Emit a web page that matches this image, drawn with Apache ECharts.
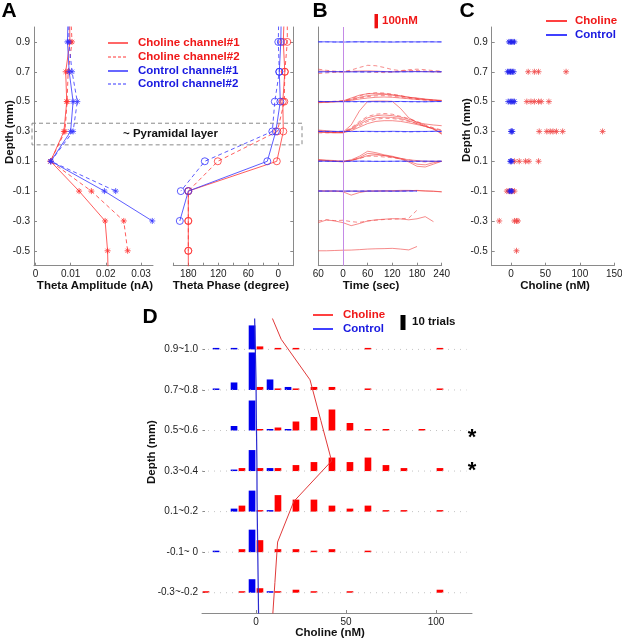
<!DOCTYPE html>
<html>
<head>
<meta charset="utf-8">
<script src="https://cdn.jsdelivr.net/npm/echarts@6.0.0/dist/echarts.min.js"></script>
<style>
html, body { margin: 0; padding: 0; background: #fff; }
#fig { width: 622px; height: 640px; }
</style>
</head>
<body>
<div id="fig"></div>
<script>
var FONT = '"Liberation Sans", Arial, sans-serif';
var STAR = 'path://M5,0L5,10M0,5L10,5M1.5,1.5L8.5,8.5M8.5,1.5L1.5,8.5';
var RED = '#ff3535', BLUE = '#3535ff';
var RED_T = '#f01818', BLUE_T = '#1818e0';

var depthTicks = [-0.5, -0.3, -0.1, 0.1, 0.3, 0.5, 0.7, 0.9];

// panel A : theta amplitude (nA) and phase (deg) by depth (mm)
var aDepth  = [1.1, 0.9, 0.7, 0.5, 0.3, 0.1, -0.1, -0.3, -0.5, -0.7];
var ampCho1 = [0.0097, 0.0098, 0.0086, 0.0089, 0.0081, 0.0043, 0.0124, 0.0198, 0.0205, 0.0207];
var ampCho2 = [0.0100, 0.0104, 0.0093, 0.0090, 0.0084, 0.0043, 0.0159, 0.0251, 0.0262, null];
var ampCon1 = [0.0093, 0.0091, 0.0096, 0.0107, 0.0100, 0.0044, 0.0196, 0.0332, null, null];
var ampCon2 = [0.0095, 0.0095, 0.0104, 0.0119, 0.0107, 0.0044, 0.0228, null, null, null];
var phCho1  = [-12, -10, -13, -9, -10, 3, 180, 180, 180, 180];
var phCho2  = [-18, -18, -13, -12, 2, 121, 180, 180, 180, null];
var phCon1  = [-6, -5, -2, -4, 5, 22, 180, 197, null, null];
var phCon2  = [-1, 0, -2, 7, 12, 147, 195, null, null, null];

// panel B : choline traces (nM) per depth, sampled every 20 s
var bTime  = [-60, -40, -20, 0, 20, 40, 60, 80, 100, 120, 140, 160, 180, 200, 220, 240];
var bDepth = [0.9, 0.7, 0.5, 0.3, 0.1, -0.1, -0.3, -0.5];
var bCho1 = [
  [],
  [[6, 3, 0, -2, 2, 5, 6, 4, 2, 0, 1, 3, 2, 1, 0, 0]],
  [[-5, -3, 0, 5, 25, 45, 55, 58, 55, 48, 40, 30, 22, 15, 10, 5],
   [-8, -5, -2, 2, 15, 30, 42, 48, 50, 45, 38, 30, 25, 18, 12, 8],
   [2, 0, 0, 0, 8, 18, 25, 30, 32, 30, 25, 20, 15, 12, 10, 8]],
  [[10, 5, 0, -5, 45, 143, 210, 212, 212, 210, 160, 95, 62, 52, 45, 40],
   [-5, -8, -10, -8, 20, 60, 95, 110, 115, 110, 100, 85, 65, 40, 15, -10],
   [0, -5, -5, -5, 15, 50, 80, 95, 100, 98, 90, 75, 55, 35, 20, 5],
   [-2, -5, -8, -10, 5, 30, 55, 70, 75, 75, 70, 60, 48, 35, 20, -20]],
  [[10, 5, 0, 0, 10, 35, 70, 60, 45, 35, 20, 0, -20, -25, -10, 0],
   [5, 5, 0, -5, 5, 25, 55, 50, 40, 30, 15, -5, -35, -40, -20, 0],
   [12, 8, 5, 0, 5, 20, 40, 45, 40, 30, 20, 10, 5, 0, 0, 0]],
  [[0, 0, 0, -5, -28, -10, 0, 0, 0, 0, 0, 3, 5, 2, 0, -5],
   [2, 1, 0, 0, 0, 0, 0, 1, 2, 3, 5, 5, 3, 0, -2, -5]],
  [[-12, 7, 0, -12, -33, -18, 0, 8, 12, 16, 14, 8, 15, 30, -5, null]],
  [[0, 0, 2, 4, 5, 8, 12, 14, 15, 17, 12, 6, 30, null, null, null]]
];
var bCho2 = [
  [],
  [[18, 10, 4, 2, 12, 30, 45, 42, 30, 15, 8, 14, 18, 14, 8, 4],
   [-12, -8, -4, 0, 4, 2, -2, -4, -6, -2, 6, 10, 8, 4, 0, -2]],
  [[0, 0, 2, 5, 20, 40, 55, 62, 60, 52, 42, 30, 22, 15, 10, 5],
   [-3, -2, 0, 3, 12, 25, 35, 40, 42, 38, 30, 22, 15, 10, 5, 2]],
  [[5, 0, -5, -3, 25, 70, 105, 120, 125, 120, 105, 90, 70, 45, 25, 10],
   [-10, -10, -8, -5, 10, 40, 70, 85, 92, 90, 82, 70, 55, 35, 15, -15]],
  [[3, 2, 0, 0, 8, 20, 35, 35, 30, 25, 18, 10, 0, -5, -2, 0]],
  [],
  [[0, 8, 2, 5, -5, -10, 0, 5, 10, 12, 15, 20, 75, null, null, null]],
  []
];
var bCon1 = [
  [[0, 1, 0, -1, 0, 1, 1, 0, 0, -1, 0, 1, 0, 1, 0, 0]],
  [[0, 0, 1, 0, -1, 0, 0, 1, 0, -1, 0, 0, 1, 0, 0, 0]],
  [[1, 0, 0, -1, 0, 1, 0, 0, -1, 0, 1, 0, 0, -1, 0, 1]],
  [[0, 1, 0, 0, -1, 0, 1, 0, 0, 1, 0, -1, 0, 0, 1, 0]],
  [[1, 0, -1, 0, 0, 1, 0, -1, 0, 0, 1, 0, 0, 1, 0, 0]],
  [[0, 0, 1, 0, 0, -1, 0, 0, 1, 0, 0, 1, 0, null, null, null]],
  [], []
];
var bCon2 = [
  [[1, 0, -1, 0, 1, 0, -1, 1, 0, 0, 1, -1, 0, 0, 1, 0]],
  [[-2, -1, 0, 1, 0, -2, -1, 0, 1, 0, -1, 0, 0, 1, 0, 0]],
  [[0, 0, 1, 0, -1, -2, -2, -1, -1, 0, 0, -1, -2, -1, 0, 0]],
  [[0, -1, 0, 1, 0, 0, -1, -2, -2, -1, -2, -3, -2, -1, 0, 0]],
  [[0, 1, 0, -1, 0, 0, 1, 0, -1, 0, 0, -1, 0, 0, 0, 1]],
  [[1, 0, 0, -1, 0, 0, 1, 0, 0, -1, 0, 0, 1, null, null, null]],
  [], []
];
var bScale = 0.00096;   // depth units per nM on panel B

// panel C : peak choline (nM) per trial and depth
var cDepth   = [0.9, 0.7, 0.5, 0.3, 0.1, -0.1, -0.3, -0.5];
var cCholine = [[], [25, 34, 40, 80], [23, 29, 34, 40, 44, 55], [41, 52, 57, 61, 66, 75, 133],
                [5, 12, 21, 26, 40], [-6, -3, 0, 2, 5], [-17, 5, 8, 10], [8]];
var cControl = [[-3, -1, 1, 3, 5], [-5, -3, -1, 0, 2, 4], [-4, -1, 1, 3, 5], [0, 1, 2],
                [-1, 0, 1], [-2, 0, 1], [], []];

// panel D : histograms of trials per 10 nM bin
var dRowDepth = [0.9, 0.7, 0.5, 0.3, 0.1, -0.1, -0.3];
var dRowLabel = ['0.9~1.0', '0.7~0.8', '0.5~0.6', '0.3~0.4', '0.1~0.2', '-0.1~ 0', '-0.3~-0.2'];
var dBins = [-30, -20, -10, 0, 10, 20, 30, 40, 50, 60, 70, 80, 90, 100, 110];
var dCholine = [
  [0, 0, 0, 2, 1, 1, 0, 0, 0, 1, 0, 0, 0, 1, 0],
  [0, 0, 0, 2, 1, 1, 2, 2, 0, 1, 0, 0, 0, 1, 0],
  [0, 0, 0, 1, 2, 6, 9, 14, 5, 1, 1, 0, 1, 0, 0],
  [0, 0, 2, 2, 2, 4, 6, 9, 6, 9, 4, 2, 0, 2, 0],
  [0, 0, 4, 1, 11, 8, 8, 4, 2, 4, 1, 1, 0, 1, 0],
  [0, 0, 2, 8, 2, 2, 1, 2, 0, 1, 0, 0, 0, 0, 0],
  [1, 0, 1, 3, 1, 2, 1, 0, 1, 0, 0, 0, 0, 2, 0]
];
var dControl = [
  [0, 1, 1, 16, 0, 0, 0, 0, 0, 0, 0, 0, 0, 0, 0],
  [0, 1, 5, 25, 7, 2, 0, 0, 0, 0, 0, 0, 0, 0, 0],
  [0, 0, 3, 20, 1, 1, 0, 0, 0, 0, 0, 0, 0, 0, 0],
  [0, 0, 1, 14, 2, 0, 0, 0, 0, 0, 0, 0, 0, 0, 0],
  [0, 0, 2, 14, 1, 0, 0, 0, 0, 0, 0, 0, 0, 0, 0],
  [0, 1, 0, 15, 0, 0, 0, 0, 0, 0, 0, 0, 0, 0, 0],
  [0, 0, 0, 9, 1, 0, 0, 0, 0, 0, 0, 0, 0, 0, 0]
];
var dLineDepth    = [1.15, 0.95, 0.75, 0.55, 0.35, 0.15, -0.05, -0.25, -0.45];
var dCholineMean  = [4.5, 14, 30, 36, 42, 21, 12, 10.5, 9];
var dControlMean  = [-1, -0.5, 0, 0.2, 0.5, 0.6, 0.9, 1.2, 1.5];
var trialUnit = 0.0074;   // depth units per trial on panel D

function pairs(xs, ys) {
  return xs.map(function (x, i) { return x == null ? null : [x, ys[i]]; })
           .filter(function (p) { return p; });
}

function axis(grid, min, max, ticks, labels, fmt, more) {
  var a = {
    type: 'value', gridIndex: grid, min: min, max: max,
    axisLine: { show: true, onZero: false, lineStyle: { color: '#8a8a8a', width: 1 } },
    axisTick: { show: ticks !== null, inside: true, length: 3, customValues: ticks || [],
                lineStyle: { color: '#8a8a8a' } },
    axisLabel: { show: labels !== null, customValues: labels || [], formatter: fmt,
                 color: '#222', fontSize: 10, fontFamily: FONT, margin: 4 },
    splitLine: { show: false }
  };
  return Object.assign(a, more || {});
}

var fmtNum = function (v) { return String(+v.toFixed(3)); };
var fmtDepth = function (v) { return v.toFixed(1); };

var xAxes = [
  axis(0, -0.0004, 0.0334, [0, 0.01, 0.02, 0.03], [0, 0.01, 0.02, 0.03], fmtNum),
  axis(1, -30, 210, [-30, 0, 30, 60, 90, 120, 150, 180, 210], [0, 60, 120, 180], fmtNum, { inverse: true }),
  axis(2, -60, 240, [-60, 0, 60, 120, 180, 240], [-60, 0, 60, 120, 180, 240],
       function (v) { return String(Math.abs(v)); }),
  axis(3, -28, 150, [0, 50, 100, 150], [0, 50, 100, 150], fmtNum),
  axis(4, -30, 120, [0, 50, 100], [0, 50, 100], fmtNum)
];
var yAxes = [
  axis(0, -0.6, 1.0, depthTicks, depthTicks, fmtDepth),
  axis(1, -0.6, 1.0, depthTicks, null, fmtDepth, { position: 'right' }),
  axis(2, -0.6, 1.0, null, null, fmtDepth),
  axis(3, -0.6, 1.0, depthTicks, depthTicks, fmtDepth),
  axis(4, -0.4, 1.05, dRowDepth, dRowDepth, function (v) {
    for (var i = 0; i < dRowDepth.length; i++) {
      if (Math.abs(dRowDepth[i] - v) < 1e-6) return dRowLabel[i];
    }
    return '';
  }, { axisLine: { show: false, onZero: false } })
];

var series = [];

// A: amplitude and phase
var aSets = [[ampCho1, phCho1, RED, false], [ampCho2, phCho2, RED, true],
             [ampCon1, phCon1, BLUE, false], [ampCon2, phCon2, BLUE, true]];
aSets.forEach(function (s) {
  var ls = { color: s[2], width: 1, opacity: 0.8, type: s[3] ? [4, 3] : 'solid' };
  series.push({
    type: 'line', xAxisIndex: 0, yAxisIndex: 0, data: pairs(s[0], aDepth),
    symbol: STAR, symbolSize: 6, lineStyle: ls, clip: true, silent: true,
    itemStyle: { color: 'transparent', borderColor: s[2], borderWidth: 1, opacity: 0.8 }
  });
  series.push({
    type: 'line', xAxisIndex: 1, yAxisIndex: 1, data: pairs(s[1], aDepth),
    symbol: 'circle', symbolSize: 7, lineStyle: ls, clip: true, silent: true,
    itemStyle: { color: 'transparent', borderColor: s[2], borderWidth: 1, opacity: 0.8 }
  });
});

// B: traces
function addTraces(sets, color, dashed, width) {
  sets.forEach(function (traces, r) {
    traces.forEach(function (vals) {
      series.push({
        type: 'line', xAxisIndex: 2, yAxisIndex: 2, symbol: 'none', silent: true,
        data: pairs(vals.map(function (v) { return v == null ? null : bDepth[r] + v * bScale; }), bTime)
                .map(function (p) { return [p[1], p[0]]; }),
        lineStyle: { color: color, width: width, opacity: 0.75, type: dashed ? [4, 3] : 'solid' }
      });
    });
  });
}
addTraces(bCho1, '#f03c3c', false, 0.8);
addTraces(bCho2, '#f03c3c', true, 0.8);
addTraces(bCon1, '#3030ff', false, 1);
addTraces(bCon2, '#3030ff', true, 1);
series.push({
  type: 'line', xAxisIndex: 2, yAxisIndex: 2, data: [], silent: true,
  markLine: { silent: true, symbol: 'none', label: { show: false },
              lineStyle: { color: '#c48ae6', width: 1, type: 'solid' }, data: [{ xAxis: 0 }] }
});

// C: scatter
function scat(lists) {
  var out = [];
  lists.forEach(function (vals, r) { vals.forEach(function (v) { out.push([v, cDepth[r]]); }); });
  return out;
}
series.push({
  type: 'scatter', xAxisIndex: 3, yAxisIndex: 3, data: scat(cCholine), symbol: STAR, symbolSize: 6,
  itemStyle: { color: 'transparent', borderColor: '#f04848', borderWidth: 1, opacity: 0.8 }, silent: true
});
series.push({
  type: 'scatter', xAxisIndex: 3, yAxisIndex: 3, data: scat(cControl), symbol: STAR, symbolSize: 6,
  itemStyle: { color: 'transparent', borderColor: '#2222ee', borderWidth: 1 }, silent: true
});

// D: baselines, histogram bars, mean lines
dRowDepth.forEach(function (d) {
  series.push({
    type: 'line', xAxisIndex: 4, yAxisIndex: 4, symbol: 'none', silent: true,
    data: [[-30, d], [117, d]], lineStyle: { color: '#c4c4c4', width: 1, type: [1, 5] }
  });
});
function barItems(counts, offset) {
  var out = [];
  dRowDepth.forEach(function (d, r) {
    counts[r].forEach(function (c, k) { if (c > 0) out.push([dBins[k] + offset, d, c]); });
  });
  return out;
}
function barRender(color) {
  return function (params, api) {
    var x = api.value(0), y = api.value(1), c = api.value(2);
    var p0 = api.coord([x - 1.85, y]);
    var p1 = api.coord([x + 1.85, y + c * trialUnit]);
    return { type: 'rect', shape: { x: p0[0], y: p1[1], width: p1[0] - p0[0], height: p0[1] - p1[1] },
             style: { fill: color } };
  };
}
series.push({ type: 'custom', xAxisIndex: 4, yAxisIndex: 4, data: barItems(dControl, -2.2),
              encode: { x: 0, y: 1 }, renderItem: barRender('#0000ee'), silent: true });
series.push({ type: 'custom', xAxisIndex: 4, yAxisIndex: 4, data: barItems(dCholine, 2.2),
              encode: { x: 0, y: 1 }, renderItem: barRender('#ff0000'), silent: true });
series.push({ type: 'line', xAxisIndex: 4, yAxisIndex: 4, symbol: 'none', silent: true, clip: true,
              data: pairs(dCholineMean, dLineDepth), lineStyle: { color: '#e03a3a', width: 1 } });
series.push({ type: 'line', xAxisIndex: 4, yAxisIndex: 4, symbol: 'none', silent: true, clip: true,
              data: pairs(dControlMean, dLineDepth), lineStyle: { color: '#2a2ad0', width: 1.2 } });

var myChart = echarts.init(document.getElementById('fig'), null, { renderer: 'canvas' });
var option = {
  animation: false,
  backgroundColor: '#fff',
  grid: [
    { left: 34, top: 27, width: 119, height: 238.7, outerBoundsMode: 'none' },
    { left: 173.3, top: 27, width: 120, height: 238.7, outerBoundsMode: 'none' },
    { left: 318.3, top: 27, width: 123.4, height: 238.7, outerBoundsMode: 'none' },
    { left: 491.7, top: 27, width: 122.6, height: 238.7, outerBoundsMode: 'none' },
    { left: 202, top: 319, width: 270, height: 294, outerBoundsMode: 'none' }
  ],
  xAxis: xAxes,
  yAxis: yAxes,
  series: series
};
myChart.setOption(option);

// annotations placed with the chart's own scales
function py(axisIdx, v) { return myChart.convertToPixel({ yAxisIndex: axisIdx }, v); }
function txt(x, y, s, size, color, align, rot) {
  return { type: 'text', x: x, y: y, rotation: rot || 0, silent: true,
           style: { text: s, fontSize: size, fontWeight: 'bold', fontFamily: FONT, fill: color,
                    align: align || 'center', verticalAlign: 'middle' } };
}
function seg(x1, y1, x2, y2, color, dashed) {
  return { type: 'line', silent: true, shape: { x1: x1, y1: y1, x2: x2, y2: y2 },
           style: { stroke: color, lineWidth: dashed ? 1 : 1.5, lineDash: dashed ? [3, 2] : null } };
}
var layerTop = py(0, 0.355), layerBot = py(0, 0.21);
var nM100 = py(2, 0) - py(2, 100 * bScale);
var trials10 = py(4, 0) - py(4, 10 * trialUnit);
var g = [
  txt(9, 11, 'A', 21, '#000'), txt(320, 11, 'B', 21, '#000'),
  txt(467, 11, 'C', 21, '#000'), txt(150, 317, 'D', 21, '#000'),
  txt(95, 286, 'Theta Amplitude (nA)', 11.5, '#111'),
  txt(231, 286, 'Theta Phase (degree)', 11.5, '#111'),
  txt(371, 286, 'Time (sec)', 11.5, '#111'),
  txt(555, 286, 'Choline (nM)', 11.5, '#111'),
  txt(330, 633, 'Choline (nM)', 11.5, '#111'),
  txt(10, 132, 'Depth (mm)', 11.5, '#111', 'center', Math.PI / 2),
  txt(467, 130, 'Depth (mm)', 11.5, '#111', 'center', Math.PI / 2),
  txt(152, 452, 'Depth (mm)', 11.5, '#111', 'center', Math.PI / 2),
  // A legend
  seg(108, 43, 128, 43, RED, false), txt(138, 43, 'Choline channel#1', 11.5, RED_T, 'left'),
  seg(108, 57, 128, 57, RED, true), txt(138, 57, 'Choline channel#2', 11.5, RED_T, 'left'),
  seg(108, 71, 128, 71, BLUE, false), txt(138, 71, 'Control channel#1', 11.5, BLUE_T, 'left'),
  seg(108, 84, 128, 84, BLUE, true), txt(138, 84, 'Control channel#2', 11.5, BLUE_T, 'left'),
  // pyramidal layer box
  { type: 'rect', silent: true, shape: { x: 32, y: layerTop, width: 270, height: layerBot - layerTop },
    style: { fill: 'none', stroke: '#8a8a8a', lineWidth: 1, lineDash: [4, 3] } },
  txt(123, (layerTop + layerBot) / 2, '~ Pyramidal layer', 11.5, '#111', 'left'),
  // B scale bar
  { type: 'rect', silent: true, shape: { x: 374.5, y: 14, width: 3.5, height: nM100 }, style: { fill: '#ee1111' } },
  txt(382, 21, '100nM', 11.5, RED_T, 'left'),
  // C legend
  seg(546, 21, 567, 21, '#ff0000', false), txt(575, 21, 'Choline', 11.5, RED_T, 'left'),
  seg(546, 35, 567, 35, '#0000ff', false), txt(575, 35, 'Control', 11.5, BLUE_T, 'left'),
  // D legend, trial bar, asterisks
  seg(313, 315, 333, 315, '#ff0000', false), txt(343, 315, 'Choline', 11.5, RED_T, 'left'),
  seg(313, 329, 333, 329, '#0000ff', false), txt(343, 329, 'Control', 11.5, BLUE_T, 'left'),
  { type: 'rect', silent: true, shape: { x: 400.5, y: 315, width: 5, height: trials10 }, style: { fill: '#000' } },
  txt(412, 322, '10 trials', 11.5, '#111', 'left'),
  txt(472, 438, '*', 22, '#000'), txt(472, 471, '*', 22, '#000')
];
myChart.setOption({ graphic: g });

window.addEventListener('resize', function () { myChart.resize(); });
</script>
</body>
</html>
